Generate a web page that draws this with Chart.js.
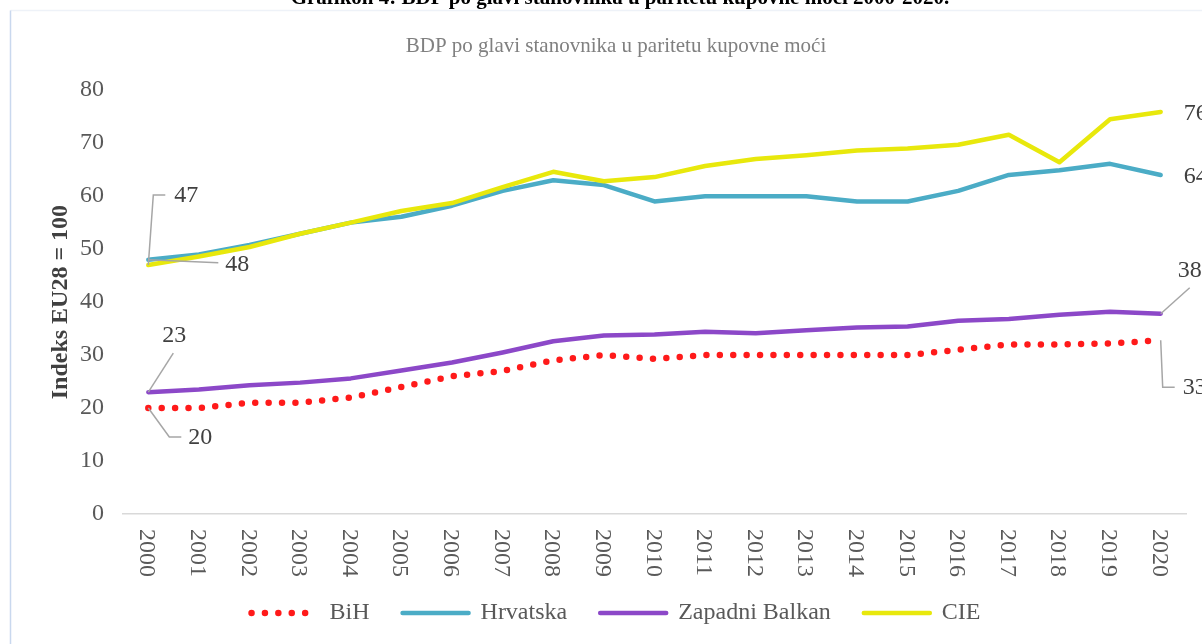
<!DOCTYPE html>
<html>
<head>
<meta charset="utf-8">
<script src="https://cdn.jsdelivr.net/npm/chart.js"></script>
<style>
  html, body { margin: 0; padding: 0; background: #fff; }
  canvas { display: block; }
</style>
</head>
<body>
<canvas id="grafikon" width="1202" height="644"></canvas>
<script>
// Podaci
const godine = ['2000','2001','2002','2003','2004','2005','2006','2007','2008','2009','2010',
  '2011','2012','2013','2014','2015','2016','2017','2018','2019','2020'];
const bih = [20, 20, 21, 21, 22, 24, 26, 27, 29, 30, 29.3, 30, 30, 30, 30, 30, 31, 32, 32, 32.2, 32.8];
const hrvatska = [48, 49, 50.8, 52.9, 55, 56.1, 58.2, 61, 63, 62.1, 59, 60, 60, 60, 59, 59, 61, 64, 64.9, 66.1, 64];
const zapadniBalkan = [23, 23.5, 24.3, 24.8, 25.6, 27.1, 28.6, 30.5, 32.6, 33.7, 33.9, 34.4, 34.1, 34.7, 35.2, 35.4, 36.5, 36.8, 37.6, 38.2, 37.8];
const cie = [47, 48.6, 50.4, 52.9, 55, 57.2, 58.7, 61.7, 64.6, 62.8, 63.6, 65.7, 67, 67.7, 68.6, 69, 69.7, 71.6, 66.4, 74.5, 75.9];
const yTicks = [0, 10, 20, 30, 40, 50, 60, 70, 80];

const SERIF = "'Liberation Serif', 'Times New Roman', serif";
Chart.defaults.font.family = SERIF;
Chart.defaults.font.size = 24;
Chart.defaults.color = '#595959';

// oznake vrijednosti: [dataset, indeks, dx, dy, poravnanje, linija vodilica]
const oznake = [
  [3, 0, 38, -69, 'center', [[0, 0], [5, -70], [17, -70]]],
  [1, 0, 89, 5, 'center', [[0, 0], [70, 3]]],
  [2, 0, 26, -56, 'center', [[0, 0], [25, -39]]],
  [0, 0, 52, 30, 'center', [[0, 0], [21, 29], [33, 29]]],
  [3, 20, 23, 2, 'left', null],
  [1, 20, 23, 2, 'left', null],
  [2, 20, 17, -43, 'left', [[0, 0], [29, -26]]],
  [0, 20, 22, 47, 'left', [[0, 0], [2, 47], [14, 47]]]
];

const okvir = {
  id: 'okvir',
  beforeDraw(chart) {
    const ctx = chart.ctx;
    ctx.save();
    ctx.fillStyle = '#fff';
    ctx.fillRect(0, 0, chart.width, chart.height);
    ctx.strokeStyle = '#eef2f8';
    ctx.lineWidth = 1.5;
    ctx.beginPath();
    ctx.moveTo(10.5, 10.5);
    ctx.lineTo(chart.width + 5, 10.5);
    ctx.stroke();
    ctx.strokeStyle = '#c9d8ee';
    ctx.beginPath();
    ctx.moveTo(10.5, 10.5);
    ctx.lineTo(10.5, chart.height + 5);
    ctx.stroke();
    // naslov dokumenta (odrezan gore)
    ctx.fillStyle = '#000';
    ctx.font = 'bold 21px ' + SERIF;
    ctx.textAlign = 'center';
    ctx.textBaseline = 'alphabetic';
    ctx.fillText('Grafikon 4: BDP po glavi stanovnika u paritetu kupovne moći 2000-2020.', 620, 4);
    ctx.restore();
  }
};

const xOznake = {
  id: 'xOznake',
  afterDraw(chart) {
    const ctx = chart.ctx;
    const x = chart.scales.x;
    ctx.save();
    ctx.fillStyle = '#595959';
    ctx.font = '24px ' + SERIF;
    ctx.textAlign = 'left';
    ctx.textBaseline = 'alphabetic';
    godine.forEach((g, i) => {
      ctx.save();
      ctx.translate(x.getPixelForTick(i), x.top + 15);
      ctx.rotate(Math.PI / 2);
      ctx.fillText(g, 0, 8);
      ctx.restore();
    });
    ctx.restore();
  }
};

const vrijednosti = {
  id: 'vrijednosti',
  afterDatasetsDraw(chart) {
    const ctx = chart.ctx;
    ctx.save();
    oznake.forEach(([ds, i, dx, dy, align, linija]) => {
      const pt = chart.getDatasetMeta(ds).data[i];
      const v = chart.data.datasets[ds].data[i];
      if (linija) {
        ctx.strokeStyle = '#a6a6a6';
        ctx.lineWidth = 1.5;
        ctx.beginPath();
        linija.forEach(([lx, ly], k) => {
          if (k === 0) ctx.moveTo(pt.x + lx, pt.y + ly);
          else ctx.lineTo(pt.x + lx, pt.y + ly);
        });
        ctx.stroke();
      }
      ctx.fillStyle = '#404040';
      ctx.font = '24px ' + SERIF;
      ctx.textAlign = align;
      ctx.textBaseline = 'middle';
      ctx.fillText(String(Math.round(v)), pt.x + dx, pt.y + dy);
    });
    ctx.restore();
  }
};

new Chart(document.getElementById('grafikon'), {
  type: 'line',
  data: {
    labels: godine,
    datasets: [
      { label: 'BiH', data: bih, borderColor: '#ff1a1a', borderWidth: 6.5,
        borderDash: [0, 13.4], borderCapStyle: 'round', order: 4 },
      { label: 'Hrvatska', data: hrvatska, borderColor: '#4bacc6', borderWidth: 4.5,
        borderCapStyle: 'round', order: 3 },
      { label: 'Zapadni Balkan', data: zapadniBalkan, borderColor: '#8c48c8', borderWidth: 4.5,
        borderCapStyle: 'round', order: 2 },
      { label: 'CIE', data: cie, borderColor: '#e8e80c', borderWidth: 4.5,
        borderCapStyle: 'round', order: 1 }
    ]
  },
  options: {
    responsive: false,
    animation: false,
    devicePixelRatio: 1,
    layout: { padding: { top: 30, left: 46, right: 16, bottom: 9 } },
    elements: { point: { radius: 0, hoverRadius: 0 }, line: { tension: 0, borderJoinStyle: 'round' } },
    plugins: {
      tooltip: { enabled: false },
      title: {
        display: true,
        text: 'BDP po glavi stanovnika u paritetu kupovne moći',
        color: '#808080',
        font: { size: 21, weight: 'normal' },
        padding: { top: 4, bottom: 31 }
      },
      legend: {
        position: 'bottom',
        labels: {
          usePointStyle: true,
          pointStyleWidth: 66,
          boxHeight: 10,
          padding: 33,
          color: '#595959',
          font: { size: 24 },
          generateLabels(chart) {
            return chart.data.datasets.map((d, i) => ({
              text: d.label,
              datasetIndex: i,
              pointStyle: 'line',
              strokeStyle: d.borderColor,
              fillStyle: d.borderColor,
              lineWidth: d.borderWidth,
              lineDash: d.borderDash || [],
              lineCap: 'round',
              fontColor: '#595959'
            }));
          }
        }
      }
    },
    scales: {
      x: {
        offset: true,
        grid: { display: false },
        border: { display: true, color: '#d9d9d9', width: 1.5 },
        ticks: { display: false },
        afterFit(s) { s.height = 54; }
      },
      y: {
        min: 0,
        max: 80,
        afterBuildTicks(s) { s.ticks = yTicks.map(v => ({ value: v })); },
        grid: { display: false, drawTicks: false },
        border: { display: false },
        ticks: { padding: 19, color: '#595959', font: { size: 24 } },
        title: {
          display: true,
          text: 'Indeks EU28 = 100',
          color: '#404040',
          font: { size: 24, weight: 'bold' },
          padding: { top: 0, bottom: 0 }
        },
        afterFit(s) { s.width = 77; }
      }
    }
  },
  plugins: [okvir, xOznake, vrijednosti]
});
</script>
</body>
</html>
